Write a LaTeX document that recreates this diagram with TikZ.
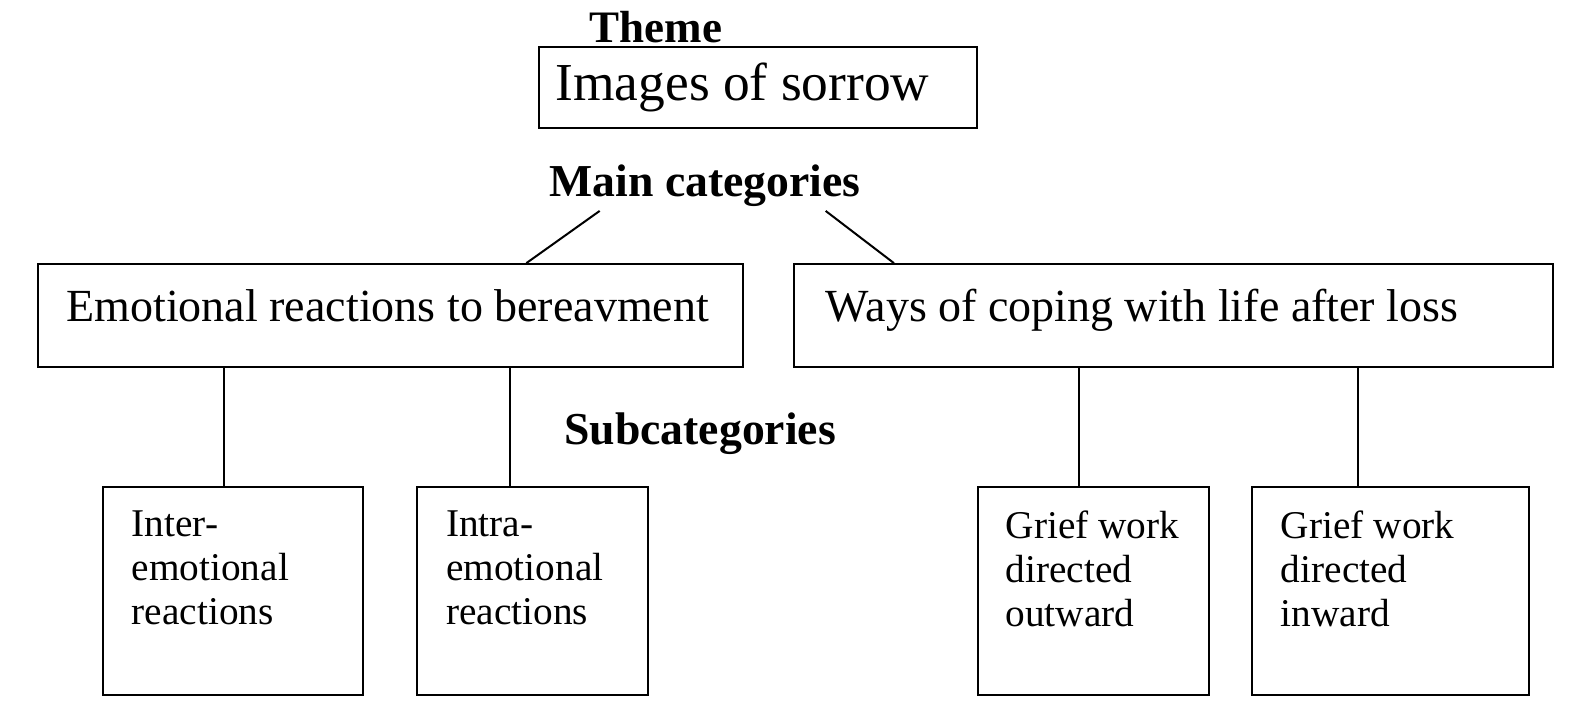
\documentclass[tikz,border=0pt]{standalone}
\usepackage{fontspec}
\setmainfont{Liberation Serif}
\begin{document}
\begin{tikzpicture}[x=1.0045bp,y=-1.0045bp,
  box/.style={draw,line width=2bp},
  ln/.style={line width=2bp},
  lbl/.style={font=\fontsize{45.7bp}{50bp}\selectfont\bfseries,anchor=base,inner sep=0pt},
  maintxt/.style={font=\fontsize{46bp}{50bp}\selectfont,anchor=base west,inner sep=0pt},
  subtxt/.style={font=\fontsize{39.3bp}{44bp}\selectfont,anchor=north west,inner sep=0pt,align=left}]
\useasboundingbox (0,0) rectangle (1568,711.8);
% theme
\node[lbl,font=\fontsize{45bp}{48bp}\selectfont\bfseries] (theme) at (653,42) {Theme};
\draw[box] (537,47) rectangle (973,127);
\node[maintxt,font=\fontsize{53.4bp}{58bp}\selectfont] (images) at (553,100) {Images of sorrow};
% main categories
\node[lbl] (maincat) at (702,196) {Main categories};
\coordinate (mcl) at (597,210);
\coordinate (mcr) at (822,210);
\node[box,minimum width=705.2bp,minimum height=102.5bp,inner sep=0pt] (emo) at (389,314) {};
\node[maintxt] (emotxt) at (66,320) {Emotional reactions to bereavment};
\node[box,minimum width=759.4bp,minimum height=102.5bp,inner sep=0pt] (ways) at (1168,314) {};
\node[maintxt] (waystxt) at (822,320) {Ways of coping with life after loss};
\draw[ln] (mcl) -- (emo.north -| 524,0);
\draw[ln] (mcr) -- (ways.north -| 890,0);
% subcategories
\node[lbl] (subcat) at (697,443) {Subcategories};
\node[box,minimum width=259.2bp,minimum height=207.9bp,inner sep=0pt] (s1) at (232,588.5) {};
\node[box,minimum width=231bp,minimum height=207.9bp,inner sep=0pt] (s2) at (530,588.5) {};
\node[box,minimum width=231bp,minimum height=207.9bp,inner sep=0pt] (s3) at (1089,588.5) {};
\node[box,minimum width=277.2bp,minimum height=207.9bp,inner sep=0pt] (s4) at (1384,588.5) {};
\node[subtxt] (t1) at (131,508) {Inter-\\emotional\\reactions};
\node[subtxt] (t2) at (444,508) {Intra-\\emotional\\reactions};
\node[subtxt] (t3) at (1001,508) {Grief work\\directed\\outward};
\node[subtxt] (t4) at (1275,508) {Grief work\\directed\\inward};
\draw[ln] (emo.south -| 223,0) -- (s1.north -| 223,0);
\draw[ln] (emo.south -| 508,0) -- (s2.north -| 508,0);
\draw[ln] (ways.south -| 1074,0) -- (s3.north -| 1074,0);
\draw[ln] (ways.south -| 1352,0) -- (s4.north -| 1352,0);
\end{tikzpicture}
\end{document}
